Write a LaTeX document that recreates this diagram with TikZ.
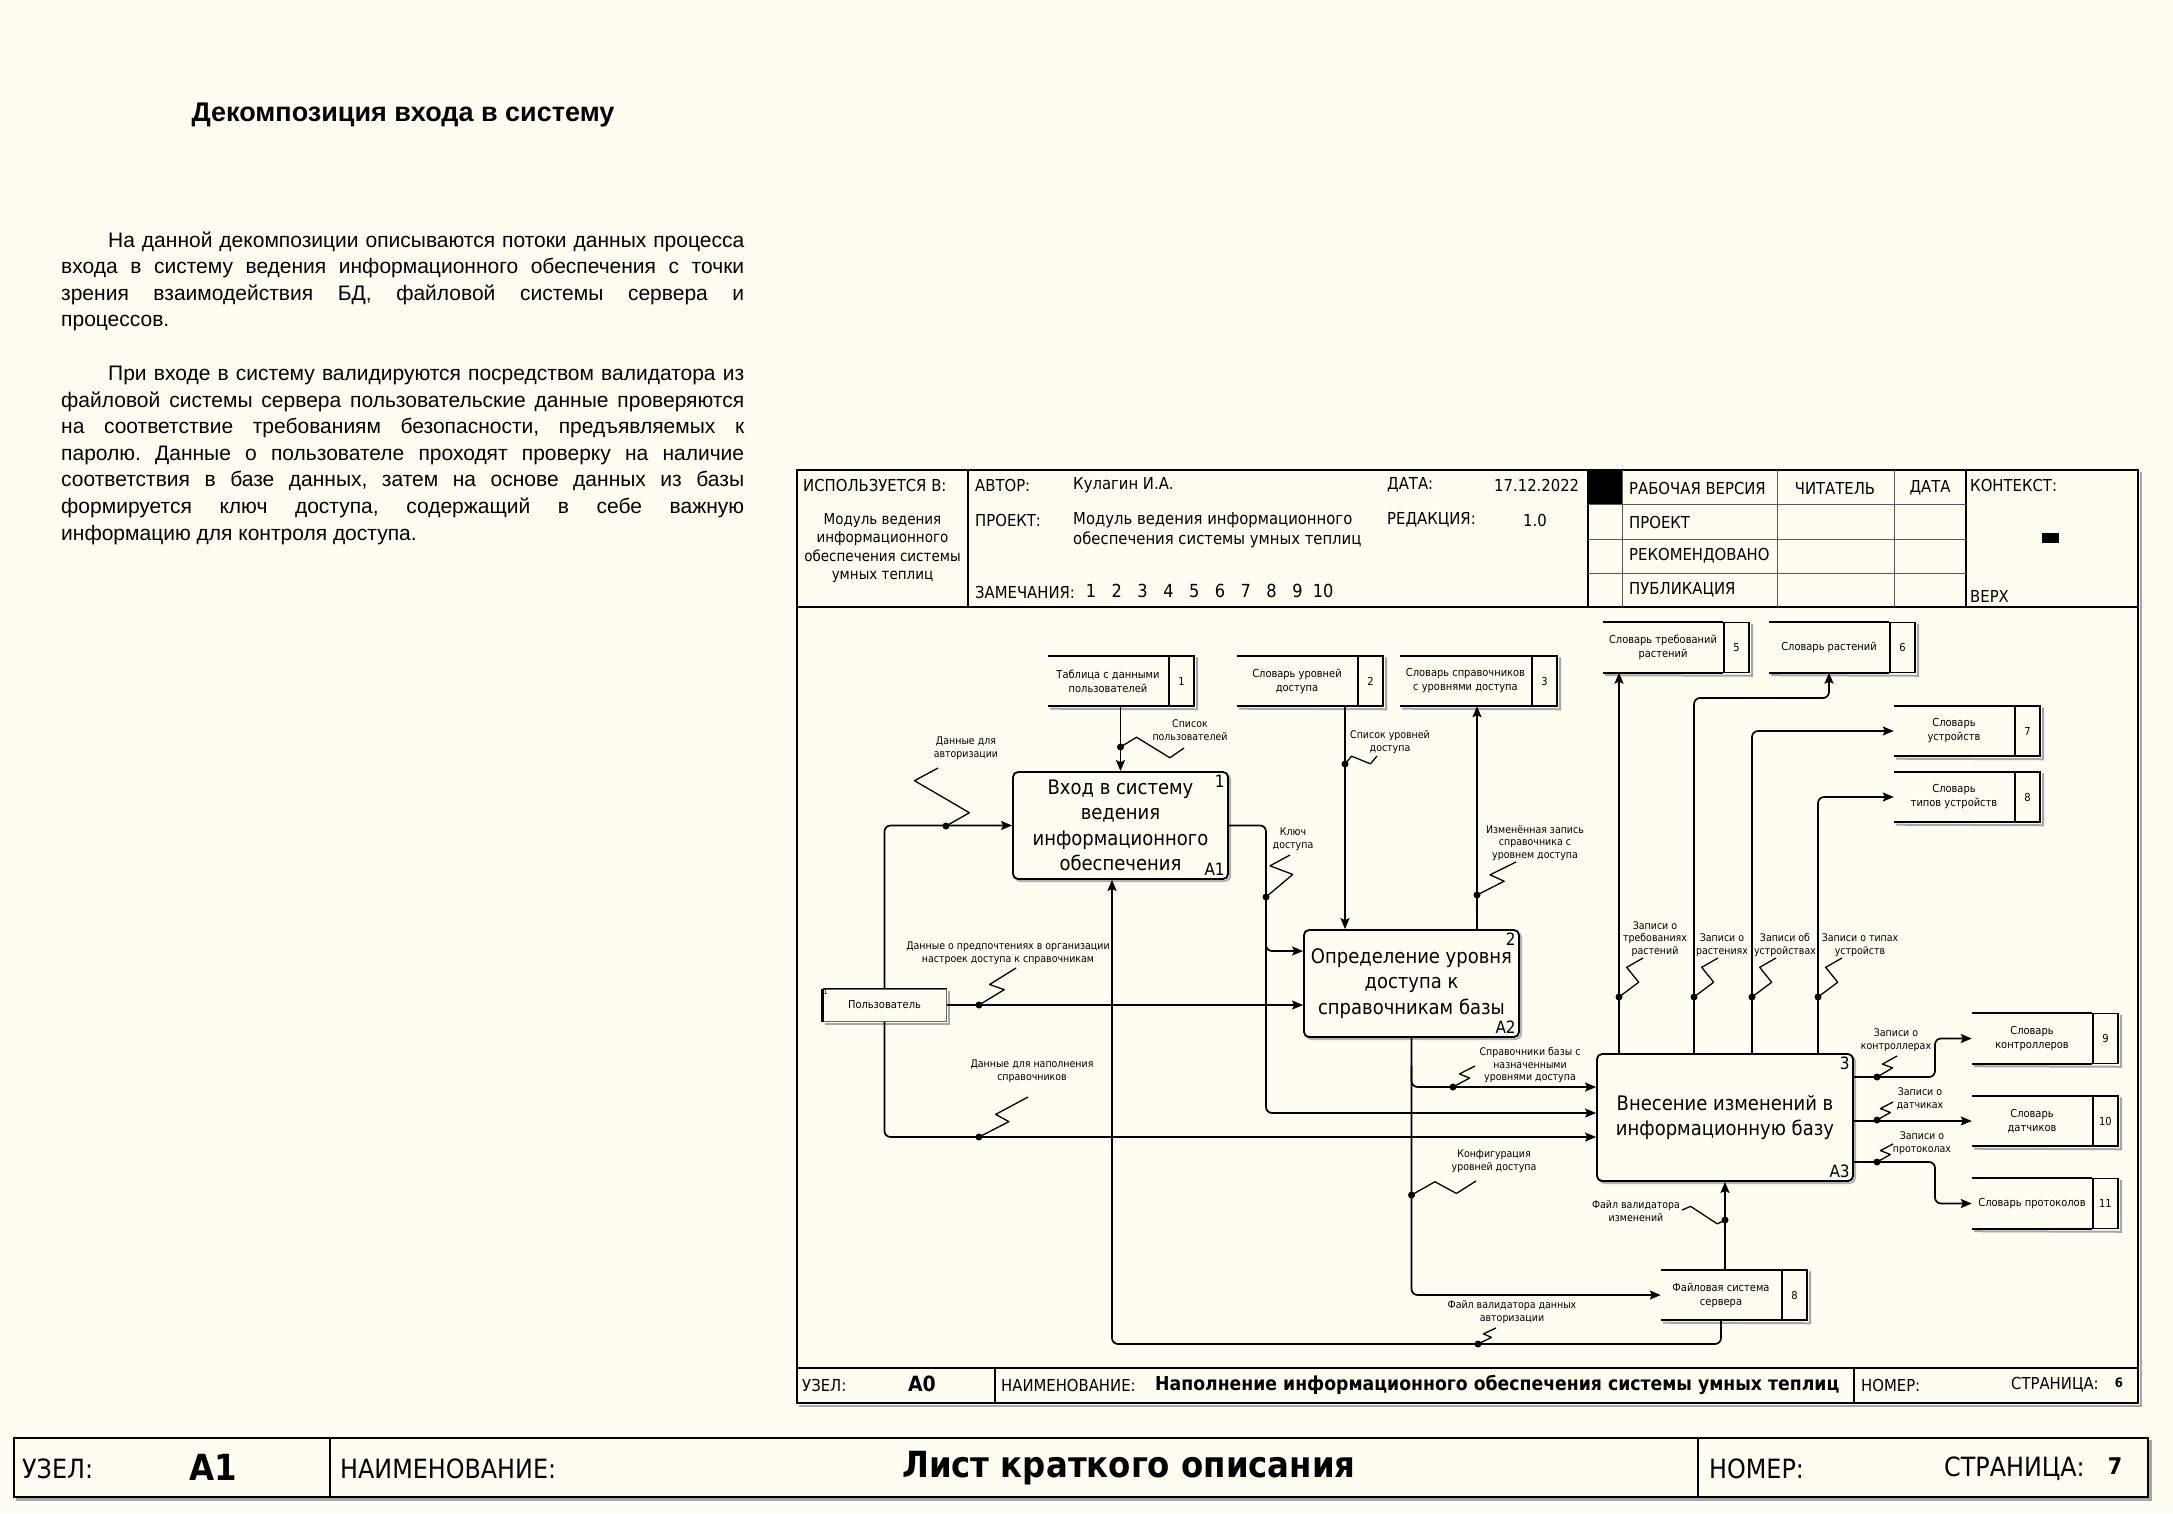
\documentclass[tikz,border=0pt]{standalone}
\usepackage{fontspec}
\setmainfont{Liberation Sans}
\newfontfamily\diafont{DejaVu Sans Condensed}
\usetikzlibrary{arrows.meta, positioning, calc}
\definecolor{paper}{RGB}{255,252,241}
\frenchspacing
\tikzset{
    sheetline/.style = {line width = 1.5pt, black},
    gridline/.style = {line width = 1pt, black!65},
    shadowline/.style = {line width = 2pt, black!35},
    bodyline/.style = {anchor = base west, inner sep = 0pt, font = \fontsize{21}{26.6}\selectfont},
    hdr/.style = {anchor = west, inner sep = 0pt, font = \diafont\fontsize{16.5}{19.5}\selectfont},
    hdrsmall/.style = {inner sep = 0pt, align = center, font = \diafont\fontsize{15}{18.3}\selectfont},
    barhdr/.style = {anchor = west, inner sep = 0pt, font = \diafont\fontsize{26.5}{26.5}\selectfont},
    notenum/.style = {inner sep = 0pt, font = \diafont\fontsize{18}{18}\selectfont},
    activity/.style = {
        draw, line width = 1.8pt, rounded corners = 5pt, fill = paper,
        minimum width = 215pt, minimum height = 107pt, inner sep = 0pt,
        align = center, font = \diafont\fontsize{20}{25.5}\selectfont,
        preaction = {draw = black!30, line width = 2pt, transform canvas = {shift = {(2pt, -2pt)}}}
    },
    boxnum/.style = {inner sep = 4pt, font = \diafont\fontsize{17}{17}\selectfont},
    storetext/.style = {minimum width = 120pt, minimum height = 50pt, inner sep = 0pt, align = center, font = \diafont\fontsize{11}{14}\selectfont},
    storenum/.style = {draw, line width = 1.5pt, minimum width = 25pt, minimum height = 50pt, inner sep = 0pt, font = \diafont\fontsize{11}{14}\selectfont},
    storeline/.style = {line width = 1.8pt},
    entity/.style = {draw = black!60, line width = 1pt, minimum width = 123pt, minimum height = 32pt, inner sep = 0pt, font = \diafont\fontsize{11}{14}\selectfont},
    flow/.style = {line width = 1.7pt, rounded corners = 6pt, -{Stealth[length = 11pt, width = 9pt, inset = 2pt]}},
    squiggle/.style = {line width = 1.3pt, line join = round},
    flowlabel/.style = {inner sep = 0pt, align = center, font = \diafont\fontsize{10.5}{12.8}\selectfont},
    footbold/.style = {inner sep = 0pt, font = \diafont\bfseries\fontsize{19.2}{19.2}\selectfont}
}
% zigzag from an arrow to its label: dot, end, two fractions, offset
\newcommand\labellink[5]{%
    \draw
        [squiggle]
        (#1) -- ($(#1)!#3!(#2)!#5!90:(#2)$) -- ($(#1)!#4!(#2)!#5!-90:(#2)$) -- (#2)
    ;
    \fill (#1) circle (3.5pt);
}

\begin{document}
\begin{tikzpicture}[x = 1pt, y = -1pt]
    \fill [paper] (0, 0) rectangle (2173, 1513);
    \useasboundingbox (0, 0) rectangle (2173, 1513);

    % Text
    \node [font = \bfseries\fontsize{27}{32}\selectfont] (title) at (403, 115) {Декомпозиция входа в систему};
    \node [bodyline] (p1a) at (108, 247) {\makebox[636pt][s]{На данной декомпозиции описываются потоки данных процесса}};
    \node [bodyline] (p1b) at (61, 273.6) {\makebox[683pt][s]{входа в систему ведения информационного обеспечения с точки}};
    \node [bodyline] (p1c) at (61, 300.2) {\makebox[683pt][s]{зрения взаимодействия БД, файловой системы сервера и}};
    \node [bodyline] (p1d) at (61, 326.8) {процессов.};
    \node [bodyline] (p2a) at (108, 380.4) {\makebox[636pt][s]{При входе в систему валидируются посредством валидатора из}};
    \node [bodyline] (p2b) at (61, 407) {\makebox[683pt][s]{файловой системы сервера пользовательские данные проверяются}};
    \node [bodyline] (p2c) at (61, 433.6) {\makebox[683pt][s]{на соответствие требованиям безопасности, предъявляемых к}};
    \node [bodyline] (p2d) at (61, 460.2) {\makebox[683pt][s]{паролю. Данные о пользователе проходят проверку на наличие}};
    \node [bodyline] (p2e) at (61, 486.8) {\makebox[683pt][s]{соответствия в базе данных, затем на основе данных из базы}};
    \node [bodyline] (p2f) at (61, 513.4) {\makebox[683pt][s]{формируется ключ доступа, содержащий в себе важную}};
    \node [bodyline] (p2g) at (61, 540) {информацию для контроля доступа.};

    % Frame
    \draw
        [shadowline]
        (2140.5, 472) -- (2140.5, 1405.5) -- (799, 1405.5)
    ;
    \draw
        [sheetline]
        (797, 470) rectangle (2138, 1403)
        (797, 607) -- (2138, 607)
        (797, 1368) -- (2138, 1368)
        (968, 470) -- (968, 607)
        (1588, 470) -- (1588, 607)
        (1966, 470) -- (1966, 607)
        (995, 1368) -- (995, 1403)
        (1854, 1368) -- (1854, 1403)
    ;
    \foreach \x in {1622, 1777, 1894} {
        \draw [gridline] (\x, 470) -- (\x, 607);
    }
    \foreach \y in {504, 539, 573} {
        \draw [gridline] (1588, \y) -- (1966, \y);
    }
    \fill (1588, 470) rectangle (1622, 504);
    \fill (2042, 533) rectangle (2059, 543);

    % Header
    \node [hdr] (usedin) at (803, 485) {ИСПОЛЬЗУЕТСЯ В:};
    \node [hdrsmall] (usedinname) at (882.5, 548) {Модуль ведения\\информационного\\обеспечения системы\\умных теплиц};
    \node [hdr] (author) at (975, 485) {АВТОР:};
    \node [hdr] (authorname) at (1073, 485) {Кулагин И.А.};
    \node [hdr] (date) at (1387, 485) {ДАТА:};
    \node [hdr] (dateval) at (1494, 485) {17.12.2022};
    \node [hdr] (project) at (975, 520) {ПРОЕКТ:};
    \node [hdr, align = left] (projectname) at (1073, 530) {Модуль ведения информационного\\обеспечения системы умных теплиц};
    \node [hdr] (rev) at (1387, 520) {РЕДАКЦИЯ:};
    \node [hdr, anchor = center] (revval) at (1535, 520) {1.0};
    \node [hdr] (notes) at (975, 592) {ЗАМЕЧАНИЯ:};
    \foreach \n in {1, ..., 10} {
        \node [notenum] (note\n) at ({1091 + 25.8 * (\n - 1)}, 591) {\n};
    }
    \node [hdr] (st1) at (1629, 488) {РАБОЧАЯ ВЕРСИЯ};
    \node [hdr] (st2) at (1629, 522) {ПРОЕКТ};
    \node [hdr] (st3) at (1629, 556) {РЕКОМЕНДОВАНО};
    \node [hdr] (st4) at (1629, 590) {ПУБЛИКАЦИЯ};
    \node [hdr, anchor = center] (reader) at (1835, 488) {ЧИТАТЕЛЬ};
    \node [hdr, anchor = center] (readdate) at (1930, 488) {ДАТА};
    \node [hdr] (context) at (1970, 485) {КОНТЕКСТ:};
    \node [hdr] (ctxtop) at (1970, 596) {ВЕРХ};

    % Footer
    \node [hdr] (nodekey) at (802, 1385) {УЗЕЛ:};
    \node [footbold, font = \diafont\bfseries\fontsize{21}{21}\selectfont] (nodeval) at (922, 1384) {A0};
    \node [hdr] (namekey) at (1001, 1385) {НАИМЕНОВАНИЕ:};
    \node [footbold, anchor = west] (nameval) at (1155, 1385) {Наполнение информационного обеспечения системы умных теплиц};
    \node [hdr] (numkey) at (1861, 1385) {НОМЕР:};
    \node [hdr] (pagekey) at (2011, 1385) {СТРАНИЦА:};
    \node [footbold, font = \diafont\bfseries\fontsize{13}{13}\selectfont] (pageval) at (2119, 1383) {6};

    % Activities
    \node [activity] (a1) at (1120.5, 825.5) {Вход в систему\\ведения\\информационного\\обеспечения};
    \node [activity] (a2) at (1411.5, 983.5) {Определение уровня\\доступа к\\справочникам базы};
    \node [activity, minimum width = 256pt, minimum height = 127pt] (a3) at (1725, 1117.5) {Внесение изменений в\\информационную базу};
    \foreach \a in {1, 2, 3} {
        \node [boxnum, anchor = north east] (a\a num) at (a\a.north east) {\a};
        \node [boxnum, anchor = south east] (a\a code) at (a\a.south east) {A\a};
    }

    % Data stores
    \node [storetext] (s1) at (1108, 681) {Таблица с данными\\пользователей};
    \node [storetext] (s2) at (1297, 681) {Словарь уровней\\доступа};
    \node [storetext, minimum width = 131pt] (s3) at (1465.5, 681) {Словарь справочников\\с уровнями доступа};
    \node [storetext] (s5) at (1663, 647.5) {Словарь требований\\растений};
    \node [storetext] (s6) at (1829, 647.5) {Словарь растений};
    \node [storetext] (s7) at (1954, 731) {Словарь\\устройств};
    \node [storetext] (s8) at (1954, 797) {Словарь\\типов устройств};
    \node [storetext] (s9) at (2032, 1038.5) {Словарь\\контроллеров};
    \node [storetext] (s10) at (2032, 1121) {Словарь\\датчиков};
    \node [storetext] (s11) at (2032, 1203.5) {Словарь протоколов};
    \node [storetext] (fs) at (1721, 1295) {Файловая система\\сервера};
    \node [storenum, right = 0pt of s1] (s1n) {1};
    \node [storenum, right = 0pt of s2] (s2n) {2};
    \node [storenum, right = 0pt of s3] (s3n) {3};
    \node [storenum, right = 0pt of s5] (s5n) {5};
    \node [storenum, right = 0pt of s6] (s6n) {6};
    \node [storenum, right = 0pt of s7] (s7n) {7};
    \node [storenum, right = 0pt of s8] (s8n) {8};
    \node [storenum, right = 0pt of s9] (s9n) {9};
    \node [storenum, right = 0pt of s10] (s10n) {10};
    \node [storenum, right = 0pt of s11] (s11n) {11};
    \node [storenum, right = 0pt of fs] (fsn) {8};
    \foreach \s in {s1,s2,s3,s5,s6,s7,s8,s9,s10,s11,fs} {
        \draw [shadowline] ($(\s.south west) + (2, 2.5)$) -- ($(\s n.south east) + (2.5, 2.5)$) -- ($(\s n.north east) + (2.5, 2)$);
        \draw [storeline] (\s.north west) -- (\s.north east) (\s.south west) -- (\s.south east);
    }

    % External entity
    \node [entity] (user) at (884.5, 1005) {Пользователь};
    \draw [shadowline] ($(user.south west) + (2, 2)$) -- ($(user.south east) + (2, 2)$) -- ($(user.north east) + (2, 2)$);
    \draw [line width = 3pt] (user.north west) -- (user.south west);
    \draw [line width = 1.2pt] (user.north west) -- (user.north east);
    \node [inner sep = 1pt, anchor = north west, font = \diafont\fontsize{7}{7}\selectfont] (usernum) at (user.north west) {1};

    % Ports
    \coordinate (a1ctl) at (a1.south -| 1112, 0);
    \coordinate (a2ctl) at (a2.north -| 1345, 0);
    \coordinate (a2out) at (a2.north -| 1477, 0);
    \coordinate (a2in1) at (a2.west |- 0, 951);
    \coordinate (a3in1) at (a3.west |- 0, 1087);
    \coordinate (a3in2) at (a3.west |- 0, 1113);
    \coordinate (a3in3) at (a3.west |- 0, 1137);
    \coordinate (a3up1) at (a3.north -| 1619, 0);
    \coordinate (a3up2) at (a3.north -| 1694, 0);
    \coordinate (a3up3) at (a3.north -| 1752, 0);
    \coordinate (a3up4) at (a3.north -| 1818, 0);
    \coordinate (a3out1) at (a3.east |- 0, 1077);
    \coordinate (a3out2) at (a3.east |- s10.west);
    \coordinate (a3out3) at (a3.east |- 0, 1162);

    % Arrows
    \draw [flow] (user.north) |- (a1.west);
    \draw [flow] (user.east) -- (a2.west |- user.east);
    \draw [flow] (user.south) |- (a3in3);
    \draw [flow] (s1.south -| a1.north) -- (a1.north);
    \draw [flow] (s2.south -| a2ctl) -- (a2ctl);
    \draw [flow] (a2out) -- (s3.south -| a2out);
    \draw [flow] (a1.east) -| (1266, 1113) -- (a3in2);
    \draw [flow] (1266, 930) |- (a2in1);
    \draw [flow] (a2.south) |- (fs.west);
    \draw [flow] (a2.south |- 0, 1066) |- (a3in1);
    \draw [flow] (fs.north -| a3.south) -- (a3.south);
    \draw [flow] (fs.south) |- (a1ctl |- 0, 1344) -- (a1ctl);
    \draw [flow] (a3up1) -- (s5.south -| a3up1);
    \draw [flow] (a3up2) |- (s6.south |- 0, 698) -- (s6.south);
    \draw [flow] (a3up3) |- (s7.west);
    \draw [flow] (a3up4) |- (s8.west);
    \draw [flow] (a3out1) -| (1935, 1050) |- (s9.west);
    \draw [flow] (a3out2) -- (s10.west);
    \draw [flow] (a3out3) -| (1935, 1190) |- (s11.west);

    % Label links
    \labellink{946, 826}{938, 768}{0.17}{0.84}{-25pt}
    \labellink{1120.5, 747}{1184, 748}{0.25}{0.78}{10pt}
    \labellink{1345, 764}{1377, 756}{0.25}{0.75}{6pt}
    \labellink{1266, 897}{1290, 855}{0.68}{0.6}{-12pt}
    \labellink{979, 1005}{1016, 968}{0.55}{0.42}{-7pt}
    \labellink{979, 1137}{1028, 1097}{0.52}{0.43}{-7pt}
    \labellink{1477, 895}{1516, 862}{0.58}{0.45}{-7pt}
    \labellink{1453, 1087}{1475, 1066}{0.6}{0.45}{-5pt}
    \labellink{1411.5, 1195}{1476, 1181}{0.39}{0.67}{8pt}
    \labellink{1478, 1344}{1496, 1328}{0.6}{0.45}{-4pt}
    \labellink{1725, 1220}{1682, 1210}{0.15}{0.83}{5.5pt}
    \foreach \x in {1619, 1694, 1752, 1818} {
        \labellink{\x, 997}{\x + 24, 958}{0.5}{0.64}{-9pt}
    }
    \labellink{1877, 1077}{1897, 1056}{0.6}{0.45}{-5pt}
    \labellink{1877, 1120}{1893, 1102}{0.6}{0.45}{-5pt}
    \labellink{1877, 1162}{1893, 1144}{0.6}{0.45}{-5pt}

    % Labels
    \node [flowlabel] (lauth) at (966, 748) {Данные для\\авторизации};
    \node [flowlabel] (lusers) at (1190, 730) {Список\\пользователей};
    \node [flowlabel] (llevels) at (1390, 742) {Список уровней\\доступа};
    \node [flowlabel] (lkey) at (1293, 839) {Ключ\\доступа};
    \node [flowlabel] (lchanged) at (1535, 843) {Изменённая запись\\справочника с\\уровнем доступа};
    \node [flowlabel] (lprefs) at (1008, 953) {Данные о предпочтениях в организации\\настроек доступа к справочникам};
    \node [flowlabel] (lfill) at (1032, 1071) {Данные для наполнения\\справочников};
    \node [flowlabel] (ldicts) at (1530, 1065) {Справочники базы с\\назначенными\\уровнями доступа};
    \node [flowlabel] (lconf) at (1494, 1161) {Конфигурация\\уровней доступа};
    \node [flowlabel] (lvalch) at (1636, 1211) {Файл валидатора\\изменений};
    \node [flowlabel] (lvalauth) at (1512, 1312) {Файл валидатора данных\\авторизации};
    \node [flowlabel] (lreq) at (1655, 939) {Записи о\\требованиях\\растений};
    \node [flowlabel] (lplants) at (1722, 945) {Записи о\\растениях};
    \node [flowlabel] (ldevices) at (1785, 945) {Записи об\\устройствах};
    \node [flowlabel] (ltypes) at (1860, 945) {Записи о типах\\устройств};
    \node [flowlabel] (lctrl) at (1896, 1040) {Записи о\\контроллерах};
    \node [flowlabel] (lsens) at (1920, 1099) {Записи о\\датчиках};
    \node [flowlabel] (lprot) at (1922, 1143) {Записи о\\протоколах};

    % Sheet bar
    \draw
        [shadowline, line width = 2.5pt]
        (16, 1499.5) -- (2150.5, 1499.5) -- (2150.5, 1440)
    ;
    \draw
        [sheetline]
        (14, 1438) rectangle (2148, 1497)
        (330, 1438) -- (330, 1497)
        (1698, 1438) -- (1698, 1497)
    ;
    \node [barhdr] (barnodekey) at (22, 1469) {УЗЕЛ:};
    \node [footbold, font = \diafont\bfseries\fontsize{36}{36}\selectfont] (barnodeval) at (213, 1467) {A1};
    \node [barhdr] (barnamekey) at (340, 1469) {НАИМЕНОВАНИЕ:};
    \node [footbold, font = \diafont\bfseries\fontsize{36}{36}\selectfont] (barnameval) at (1129, 1468) {Лист краткого описания};
    \node [barhdr] (barnumkey) at (1709, 1469) {НОМЕР:};
    \node [barhdr] (barpagekey) at (1944, 1469) {СТРАНИЦА:};
    \node [footbold, font = \diafont\bfseries\fontsize{23}{23}\selectfont] (barpageval) at (2115, 1466) {7};
\end{tikzpicture}
\end{document}
